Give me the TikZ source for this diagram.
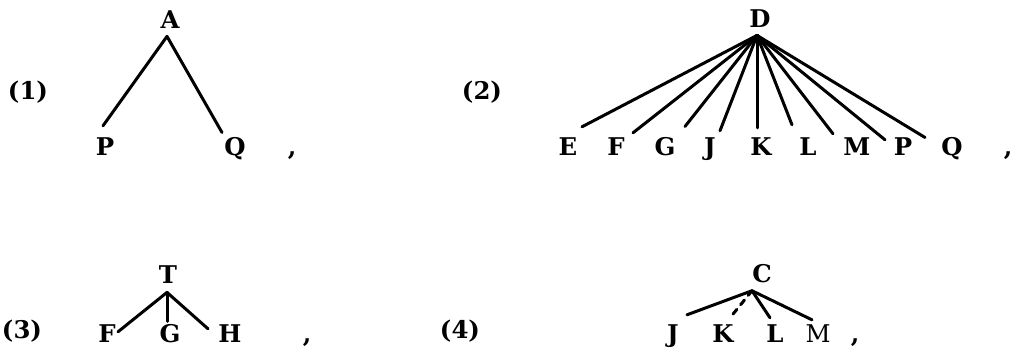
\documentclass[tikz,border=0pt]{standalone}
\usepackage{fontspec}
\newfontfamily\slabfont{DejaVu Serif}
\begin{document}
\begin{tikzpicture}[x=0.5pt,y=-0.5pt,
  lbl/.style={anchor=base,inner sep=0pt,font=\slabfont\fontsize{12.2}{14}\selectfont\bfseries},
  lblr/.style={anchor=base,inner sep=0pt,font=\slabfont\fontsize{12.2}{14}\selectfont},
  edge/.style={line width=1.5pt,line cap=round}]
\useasboundingbox (0,0) rectangle (1014,352);

% (1)
\node[lbl] (n1) at (28,100) {(1)};
\node[lbl] (a1) at (170,29) {A};
\node[lbl] (p1) at (105,156) {P};
\node[lbl] (q1) at (235,156) {Q};
\node[lbl] (c1) at (292,156) {,};
\draw[edge] ([shift={(-3,7)}]a1.south) -- ([shift={(-2,-12)}]p1.north);
\draw[edge] ([shift={(-3,7)}]a1.south) -- ([shift={(-13,-5)}]q1.north);

% (2)
\node[lbl] (n2) at (482,100) {(2)};
\node[lbl] (d2) at (760,28) {D};
\node[lbl] (e2) at (568,156) {E};
\node[lbl] (f2) at (616,156) {F};
\node[lbl] (g2) at (665,156) {G};
\node[lbl] (j2) at (710,156) {J};
\node[lbl] (k2) at (761,156) {K};
\node[lbl] (l2) at (808,156) {L};
\node[lbl] (m2) at (857,156) {M};
\node[lbl] (p2) at (903,156) {P};
\node[lbl] (q2) at (952,156) {Q};
\node[lbl] (c2) at (1008,156) {,};
\coordinate (r2) at ([shift={(-3,7)}]d2.south);
\draw[edge] (r2) -- ([shift={(14,-11)}]e2.north);
\draw[edge] (r2) -- ([shift={(17,-5)}]f2.north);
\draw[edge] (r2) -- ([shift={(20,-11)}]g2.north);
\draw[edge] (r2) -- ([shift={(10,-7)}]j2.north);
\draw[edge] (r2) -- ([shift={(-4,-10)}]k2.north);
\draw[edge] (r2) -- ([shift={(-16,-13)}]l2.north);
\draw[edge] (r2) -- ([shift={(-24,-4)}]m2.north);
\draw[edge] (r2) -- ([shift={(-18,2)}]p2.north);
\draw[edge] (r2) -- ([shift={(-27,0)}]q2.north);

% (3)
\node[lbl] (n3) at (22,339) {(3)};
\node[lbl] (t3) at (168,284) {T};
\node[lbl] (f3) at (107,343) {F};
\node[lbl] (g3) at (170,343) {G};
\node[lbl] (h3) at (230,343) {H};
\node[lbl] (c3) at (307,343) {,};
\coordinate (r3) at ([shift={(-1,8)}]t3.south);
\draw[edge] (r3) -- ([shift={(11,7)}]f3.north);
\draw[edge] (r3) -- ([shift={(-3,-3)}]g3.north);
\draw[edge] (r3) -- ([shift={(-22,4)}]h3.north);

% (4)
\node[lbl] (n4) at (460,339) {(4)};
\node[lbl] (c4) at (762,283) {C};
\node[lbl] (j4) at (673,343) {J};
\node[lbl] (k4) at (723,343) {K};
\node[lbl] (l4) at (775,343) {L};
\node[lblr] (m4) at (818,343) {M};
\node[lbl] (cm4) at (855,343) {,};
\coordinate (r4) at ([shift={(-10,7)}]c4.south);
\draw[edge] (r4) -- ([shift={(14,-10)}]j4.north);
\draw[edge,dashed] (r4) -- ([shift={(7,-7)}]k4.north);
\draw[edge] (r4) -- ([shift={(-5,-7)}]l4.north);
\draw[edge] (r4) -- ([shift={(-6,-5)}]m4.north);
\end{tikzpicture}
\end{document}
